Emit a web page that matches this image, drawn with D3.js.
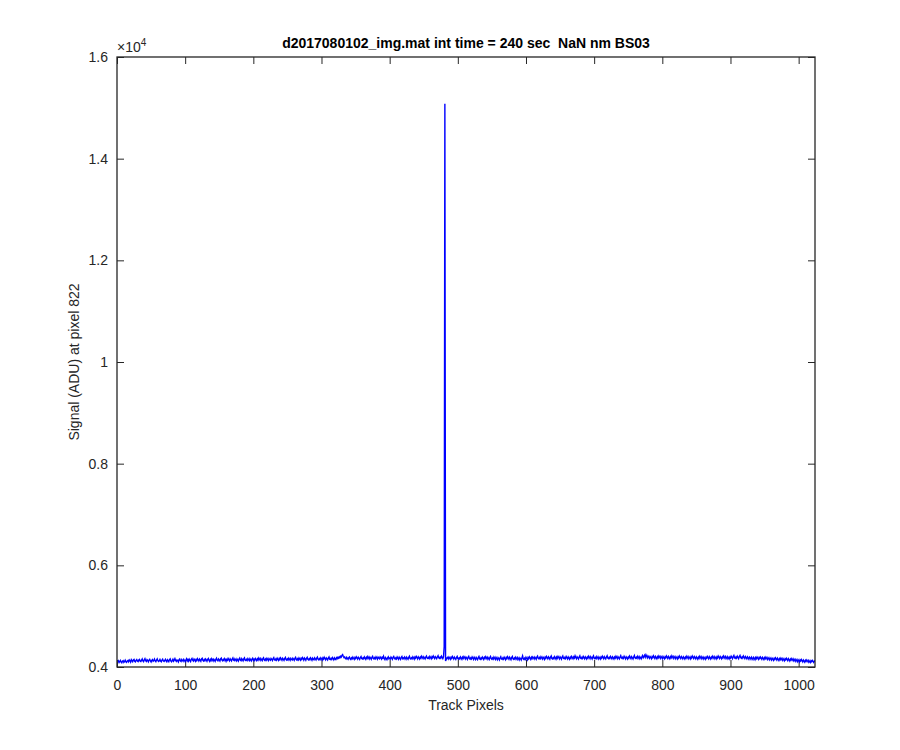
<!DOCTYPE html>
<html><head><meta charset="utf-8">
<script src="https://cdn.jsdelivr.net/npm/d3@7"></script>
<style>body{margin:0;background:#fff}svg{display:block}</style>
</head><body>
<svg id="c" width="900" height="750"></svg>
<script>
const titleText = "d2017080102_img.mat int time = 240 sec  NaN nm BS03";
const xLabel = "Track Pixels";
const yLabel = "Signal (ADU) at pixel 822";
const xTicks = [0,100,200,300,400,500,600,700,800,900,1000];
const yTicks = [4000,6000,8000,10000,12000,14000,16000];
const yTickLabels = ["0.4","0.6","0.8","1","1.2","1.4","1.6"];
const xDomain = [0,1024];
const yDomain = [4000,16000];
// signal per track pixel, 1..1024
const signal = [
4095,4120,4088,4112,4130,4098,4085,4115,4126,4092,4108,4135,4100,4090,4118,4128,4102,4140,4122,4096,4145,4125,4105,4138,4150,4112,4100,4132,4148,4118,4106,4140,
4150,4115,4108,4135,4158,4120,4105,4142,4165,4125,4110,4145,4128,4102,4136,4152,4118,4098,4132,4147,4112,4126,4155,4120,4104,4138,4160,4124,4108,4122,4148,4116,
4104,4136,4155,4120,4110,4128,4150,4118,4102,4142,4126,4106,4146,4160,4122,4104,4126,4152,4114,4136,4165,4130,4110,4138,4124,4100,4144,4158,4122,4108,4148,4130,
4112,4150,4128,4104,4138,4162,4120,4145,4116,4154,4132,4108,4152,4170,4134,4118,4158,4140,4112,4148,4126,4164,4142,4118,4155,4134,4112,4160,4172,4130,4116,4146,
4124,4158,4140,4114,4150,4168,4128,4108,4148,4126,4164,4144,4118,4154,4136,4112,4150,4172,4130,4120,4156,4138,4116,4162,4176,4134,4122,4148,4128,4166,4144,4112,
4150,4132,4168,4146,4122,4160,4138,4118,4156,4178,4136,4126,4162,4142,4120,4158,4134,4114,4154,4174,4136,4124,4164,4144,4120,4160,4180,4134,4128,4150,4130,4166,
4146,4126,4164,4140,4120,4156,4174,4132,4152,4130,4168,4148,4124,4160,4138,4178,4154,4130,4170,4146,4126,4164,4182,4140,4128,4158,4136,4172,4150,4126,4166,4146,
4132,4170,4152,4128,4166,4186,4140,4132,4158,4136,4174,4152,4130,4168,4146,4180,4158,4132,4172,4154,4130,4168,4188,4146,4136,4160,4140,4176,4154,4130,4170,4150,
4138,4174,4156,4132,4170,4190,4146,4136,4162,4140,4178,4156,4134,4172,4150,4186,4164,4136,4176,4158,4134,4172,4192,4150,4140,4164,4144,4180,4158,4134,4174,4154,
4142,4180,4160,4138,4176,4194,4150,4140,4166,4146,4182,4160,4138,4178,4156,4192,4168,4142,4180,4162,4140,4178,4198,4154,4146,4170,4150,4186,4164,4140,4180,4158,
4146,4182,4164,4190,4172,4200,4180,4212,4196,4230,4245,4206,4184,4198,4170,4158,4190,4168,4150,4184,4196,4160,4146,4180,4162,4194,4172,4150,4186,4166,4200,4178,
4156,4192,4172,4150,4186,4206,4166,4158,4182,4162,4198,4176,4152,4190,4170,4206,4180,4156,4194,4174,4152,4190,4210,4168,4158,4184,4164,4200,4178,4154,4194,4174,
4162,4198,4178,4156,4192,4174,4212,4166,4146,4186,4164,4144,4182,4202,4160,4176,4156,4194,4174,4150,4190,4208,4168,4156,4180,4160,4198,4176,4152,4192,4170,4150,
4188,4206,4164,4180,4160,4198,4178,4154,4194,4172,4152,4192,4212,4168,4158,4182,4162,4200,4178,4154,4194,4174,4210,4186,4160,4200,4178,4156,4196,4174,4212,4188,
4164,4200,4180,4158,4196,4216,4174,4166,4190,4170,4208,4186,4162,4200,4180,4218,4192,4166,4204,4186,4164,4202,4222,4180,4170,4194,4174,4212,4188,4164,4200,4400,
15080,4120,4150,4176,4188,4160,4196,4174,4150,4190,4168,4206,4182,4156,4194,4172,4150,4188,4208,4166,4154,4180,4160,4198,4176,4152,4192,4170,4206,4184,4158,4196,
4176,4150,4190,4210,4166,4154,4180,4160,4198,4176,4150,4192,4170,4146,4188,4166,4144,4184,4206,4162,4150,4178,4158,4196,4174,4148,4190,4168,4204,4180,4154,4194,
4170,4146,4186,4208,4164,4150,4178,4156,4196,4172,4148,4190,4166,4142,4184,4164,4140,4182,4204,4160,4148,4176,4154,4194,4170,4144,4188,4164,4202,4178,4152,4192,
4168,4144,4184,4206,4160,4148,4176,4154,4194,4170,4146,4188,4164,4140,4182,4162,4138,4180,4220,4158,4146,4174,4152,4192,4168,4142,4186,4162,4200,4176,4150,4190,
4166,4200,4182,4156,4196,4176,4152,4194,4214,4170,4160,4186,4164,4204,4180,4156,4196,4174,4150,4192,4170,4208,4184,4160,4200,4178,4154,4196,4216,4168,4158,4184,
4164,4202,4178,4154,4196,4172,4210,4186,4160,4200,4178,4154,4196,4218,4170,4162,4188,4166,4206,4182,4158,4198,4176,4152,4194,4170,4208,4184,4160,4200,4178,4220,
4186,4162,4202,4182,4158,4198,4222,4174,4164,4190,4168,4208,4184,4160,4200,4178,4156,4196,4174,4212,4188,4164,4204,4182,4158,4198,4220,4172,4162,4188,4166,4206,
4182,4158,4198,4176,4156,4196,4174,4212,4188,4162,4202,4180,4158,4198,4222,4176,4164,4190,4168,4208,4184,4160,4200,4178,4156,4196,4174,4212,4188,4162,4202,4180,
4158,4198,4224,4178,4166,4192,4170,4210,4186,4160,4200,4178,4156,4196,4174,4214,4188,4164,4204,4182,4158,4198,4226,4180,4168,4194,4172,4212,4188,4162,4202,4180,
4160,4200,4226,4182,4204,4232,4194,4240,4210,4180,4218,4196,4170,4208,4188,4164,4204,4182,4220,4194,4168,4208,4186,4162,4202,4180,4218,4196,4170,4210,4188,4164,
4206,4184,4160,4200,4178,4218,4194,4168,4208,4186,4162,4202,4180,4220,4196,4170,4210,4188,4164,4204,4182,4158,4198,4176,4216,4192,4166,4206,4184,4160,4200,4178,
4156,4196,4174,4214,4190,4164,4204,4182,4158,4198,4176,4216,4192,4166,4206,4184,4160,4200,4178,4154,4194,4172,4212,4188,4162,4202,4180,4156,4196,4174,4150,4192,
4172,4210,4186,4162,4202,4180,4156,4196,4174,4214,4190,4164,4204,4182,4158,4198,4176,4216,4192,4166,4206,4184,4160,4200,4178,4218,4194,4168,4208,4186,4162,4202,
4180,4156,4196,4174,4214,4190,4164,4204,4226,4182,4170,4196,4174,4214,4190,4164,4204,4228,4184,4172,4198,4176,4216,4192,4166,4206,4184,4160,4200,4178,4154,4194,
4178,4152,4192,4170,4148,4190,4168,4144,4186,4164,4196,4174,4150,4188,4166,4198,4176,4152,4190,4168,4146,4184,4162,4194,4172,4148,4186,4164,4140,4180,4158,4136,
4176,4154,4130,4170,4148,4182,4160,4136,4174,4152,4128,4166,4144,4176,4154,4130,4168,4146,4122,4160,4140,4172,4150,4126,4164,4142,4118,4156,4136,4166,4144,4120,
4158,4136,4112,4150,4130,4104,4146,4124,4100,4140,4118,4148,4126,4102,4138,4116,4094,4132,4112,4140,4118,4096,4130,4108,4088,4124,4104,4130,4110,4090,4118,4100
];

const svg = d3.select("#c");
const L = 117, R = 815, T = 57, B = 667;
const x = d3.scaleLinear().domain(xDomain).range([L, R]);
const y = d3.scaleLinear().domain(yDomain).range([B, T]);
const axCol = "#262626";
const font = "'Liberation Sans', Arial, Helvetica, sans-serif";

svg.append("defs").append("clipPath").attr("id","clip")
  .append("rect").attr("x",L).attr("y",T).attr("width",R-L).attr("height",B-T);

const tl = 7;
const gxB = svg.append("g").attr("transform",`translate(0,${B})`)
  .call(d3.axisBottom(x).tickValues(xTicks).tickSizeInner(-tl).tickSizeOuter(0).tickPadding(13).tickFormat(d3.format("d")));
const gxT = svg.append("g").attr("transform",`translate(0,${T})`)
  .call(d3.axisTop(x).tickValues(xTicks).tickSizeInner(-tl).tickSizeOuter(0).tickFormat(""));
const gyL = svg.append("g").attr("transform",`translate(${L},0)`)
  .call(d3.axisLeft(y).tickValues(yTicks).tickSizeInner(-tl).tickSizeOuter(0).tickPadding(9).tickFormat((d,i)=>yTickLabels[i]));
const gyR = svg.append("g").attr("transform",`translate(${R},0)`)
  .call(d3.axisRight(y).tickValues(yTicks).tickSizeInner(-tl).tickSizeOuter(0).tickFormat(""));
[gxB,gxT,gyL,gyR].forEach(g=>{
  g.select(".domain").remove();
  g.selectAll("line").attr("stroke",axCol).attr("stroke-width",1);
  g.selectAll("text").attr("fill",axCol).style("font-family",font).style("font-size","14px");
});

const line = d3.line().x((d,i)=>x(i+1)).y(d=>y(d));
svg.append("path").datum(signal).attr("clip-path","url(#clip)")
  .attr("d",line).attr("fill","none").attr("stroke","#0000ff").attr("stroke-width",1.4);

svg.append("rect").attr("x",L).attr("y",T).attr("width",R-L).attr("height",B-T)
  .attr("fill","none").attr("stroke",axCol).attr("stroke-width",1.3);

const ex = svg.append("text").attr("x",L).attr("y",T-5).attr("fill",axCol)
  .style("font-family",font).style("font-size","14px");
ex.append("tspan").text("\u00d710");
ex.append("tspan").attr("dy",-6).style("font-size","10px").text("4");

svg.append("text").attr("x",(L+R)/2).attr("y",T-9).attr("text-anchor","middle")
  .attr("fill","#000").style("font-family",font).style("font-size","14px").style("font-weight","bold")
  .style("white-space","pre").text(titleText);
svg.append("text").attr("x",(L+R)/2).attr("y",B+43).attr("text-anchor","middle")
  .attr("fill",axCol).style("font-family",font).style("font-size","14px").text(xLabel);
svg.append("text").attr("transform",`translate(${L-38},${(T+B)/2}) rotate(-90)`).attr("text-anchor","middle")
  .attr("fill",axCol).style("font-family",font).style("font-size","14px").text(yLabel);
</script>
</body></html>
